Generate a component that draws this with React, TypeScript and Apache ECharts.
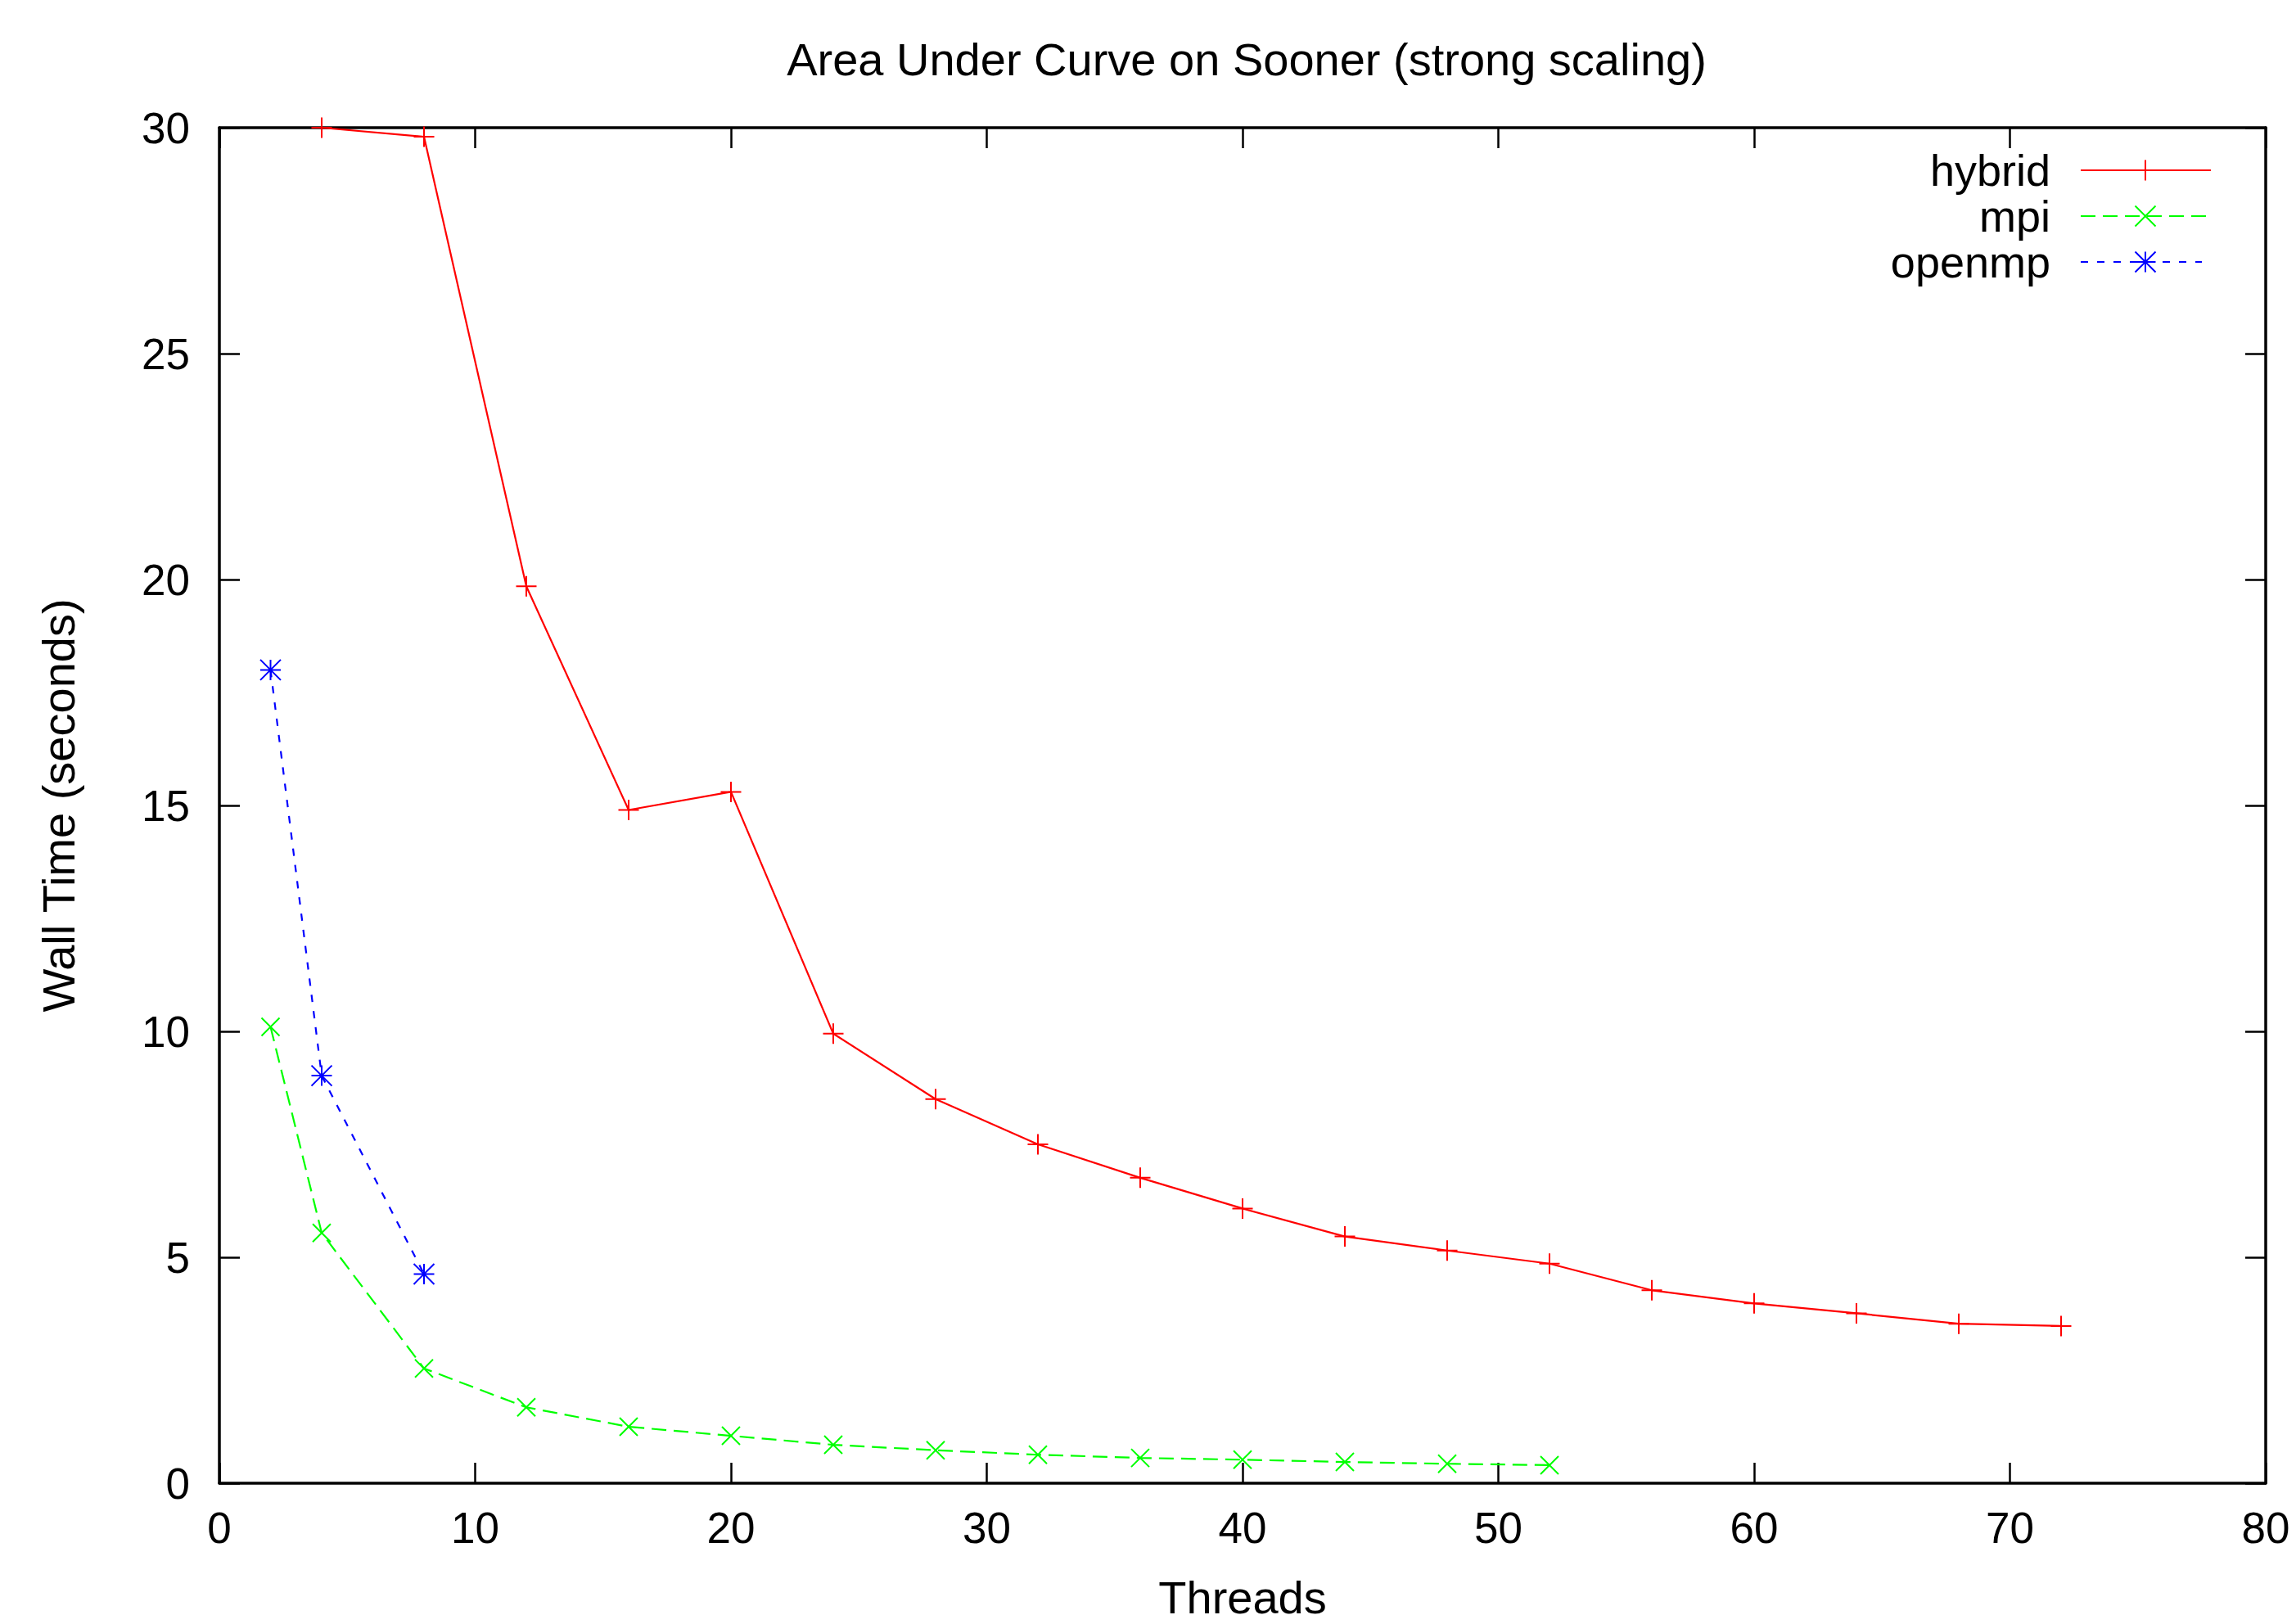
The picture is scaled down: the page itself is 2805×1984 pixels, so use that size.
import React, { useEffect, useRef } from "react";
import * as echarts from "echarts";

const titleText = "Area Under Curve on Sooner (strong scaling)";
const xName = "Threads";
const yName = "Wall Time (seconds)";
const seriesNames = ["hybrid", "mpi", "openmp"];

const hybridThreads = [4, 8, 12, 16, 20, 24, 28, 32, 36, 40, 44, 48, 52, 56, 60, 64, 68, 72];
const hybridTime = [30.0, 29.8, 19.85, 14.9, 15.3, 9.95, 8.5, 7.5, 6.76, 6.08, 5.46, 5.15, 4.86, 4.27, 3.98, 3.76, 3.53, 3.48];

const mpiThreads = [2, 4, 8, 12, 16, 20, 24, 28, 32, 36, 40, 44, 48, 52];
const mpiTime = [10.1, 5.54, 2.54, 1.68, 1.25, 1.05, 0.85, 0.73, 0.63, 0.56, 0.52, 0.47, 0.43, 0.4];

const openmpThreads = [2, 4, 8];
const openmpTime = [18.0, 9.02, 4.63];

const xTicks = { min: 0, max: 80, interval: 10 };
const yTicks = { min: 0, max: 30, interval: 5 };

const FONT = "'Liberation Sans', Arial, Helvetica, sans-serif";
const RED = "#ff0000";
const GREEN = "#00ff00";
const BLUE = "#0000ff";

const PLUS = "path://M0,-1L0,1M-1,0L1,0";
const CROSS = "path://M-1,-1L1,1M-1,1L1,-1";
const STAR = "path://M-1,-1L1,1M-1,1L1,-1M0,-1L0,1M-1,0L1,0";

function legendMarker(kind: string, cx: number, cy: number, color: string) {
  const h = 12.5;
  const segs: number[][] = [];
  if (kind === "plus" || kind === "star") {
    segs.push([cx - h, cy, cx + h, cy]);
    segs.push([cx, cy - h, cx, cy + h]);
  }
  if (kind === "cross" || kind === "star") {
    segs.push([cx - h, cy - h, cx + h, cy + h]);
    segs.push([cx - h, cy + h, cx + h, cy - h]);
  }
  return segs.map((s) => ({
    type: "line",
    shape: { x1: s[0], y1: s[1], x2: s[2], y2: s[3] },
    style: { stroke: color, lineWidth: 2 },
  }));
}

export default function App() {
  const ref = useRef<HTMLDivElement>(null);
  useEffect(() => {
    if (!ref.current) return;
    const chart = echarts.init(ref.current, null, { renderer: "svg" });

    const axisLine = { show: true, onZero: false, lineStyle: { color: "#000", width: 3.5 } };
    const axisTick = { show: true, inside: true, length: 25, lineStyle: { color: "#000", width: 2.5 } };
    const label = { color: "#000", fontSize: 53, fontFamily: FONT };

    const legendRows = [
      { name: seriesNames[0], y: 208, color: RED, dash: null as any, x2: 2701, kind: "plus" },
      { name: seriesNames[1], y: 264, color: GREEN, dash: [18, 9], x2: 2701, kind: "cross" },
      { name: seriesNames[2], y: 320, color: BLUE, dash: [9, 11], x2: 2690, kind: "star" },
    ];
    const legendGraphics: any[] = [];
    legendRows.forEach((r) => {
      legendGraphics.push({
        type: "text",
        x: 2505,
        y: r.y,
        style: {
          text: r.name,
          fill: "#000",
          font: `54px ${FONT}`,
          lineHeight: 48,
          align: "right",
          verticalAlign: "middle",
        },
      });
      legendGraphics.push({
        type: "line",
        shape: { x1: 2542, y1: r.y, x2: r.x2, y2: r.y },
        style: { stroke: r.color, lineWidth: 2, lineDash: r.dash || undefined },
      });
      legendMarker(r.kind, 2621, r.y, r.color).forEach((g) => legendGraphics.push(g));
    });

    const option: any = {
      animation: false,
      backgroundColor: "#fff",
      title: {
        text: titleText,
        left: 1518,
        top: 39,
        textAlign: "center",
        textStyle: { color: "#000", fontSize: 56, fontWeight: "normal", fontFamily: FONT },
      },
      grid: { left: 268, right: 37, top: 156, bottom: 160, containLabel: false },
      xAxis: [
        {
          type: "value",
          position: "bottom",
          ...xTicks,
          name: xName,
          nameLocation: "middle",
          nameGap: 111,
          nameTextStyle: { color: "#000", fontSize: 56, fontFamily: FONT },
          axisLine,
          axisTick,
          axisLabel: { ...label, margin: 28 },
          splitLine: { show: false },
        },
        {
          type: "value",
          position: "top",
          ...xTicks,
          axisLine,
          axisTick,
          axisLabel: { show: false },
          splitLine: { show: false },
        },
      ],
      yAxis: [
        {
          type: "value",
          position: "left",
          ...yTicks,
          name: yName,
          nameLocation: "middle",
          nameGap: 169,
          nameRotate: 90,
          nameTextStyle: { color: "#000", fontSize: 56, fontFamily: FONT },
          axisLine,
          axisTick,
          axisLabel: { ...label, margin: 36 },
          splitLine: { show: false },
        },
        {
          type: "value",
          position: "right",
          ...yTicks,
          axisLine,
          axisTick,
          axisLabel: { show: false },
          splitLine: { show: false },
        },
      ],
      series: [
        {
          name: seriesNames[0],
          type: "line",
          xAxisIndex: 0,
          yAxisIndex: 0,
          data: hybridThreads.map((t, i) => [t, hybridTime[i]]),
          symbol: PLUS,
          symbolSize: 25,
          showAllSymbol: true,
          clip: false,
          lineStyle: { color: RED, width: 2.2, type: "solid" },
          itemStyle: { color: RED, borderColor: RED, borderWidth: 2 },
        },
        {
          name: seriesNames[1],
          type: "line",
          xAxisIndex: 0,
          yAxisIndex: 0,
          data: mpiThreads.map((t, i) => [t, mpiTime[i]]),
          symbol: CROSS,
          symbolSize: 22,
          showAllSymbol: true,
          clip: false,
          lineStyle: { color: GREEN, width: 2.2, type: [18, 9] },
          itemStyle: { color: GREEN, borderColor: GREEN, borderWidth: 2 },
        },
        {
          name: seriesNames[2],
          type: "line",
          xAxisIndex: 0,
          yAxisIndex: 0,
          data: openmpThreads.map((t, i) => [t, openmpTime[i]]),
          symbol: STAR,
          symbolSize: 25,
          showAllSymbol: true,
          clip: false,
          lineStyle: { color: BLUE, width: 2.2, type: [9, 11] },
          itemStyle: { color: BLUE, borderColor: BLUE, borderWidth: 2 },
        },
      ],
      graphic: legendGraphics,
    };
    chart.setOption(option);
    return () => chart.dispose();
  }, []);

  return (
    <div
      ref={ref}
      style={{ position: "fixed", left: 0, top: 0, width: 2805, height: 1984, background: "#fff" }}
    />
  );
}
